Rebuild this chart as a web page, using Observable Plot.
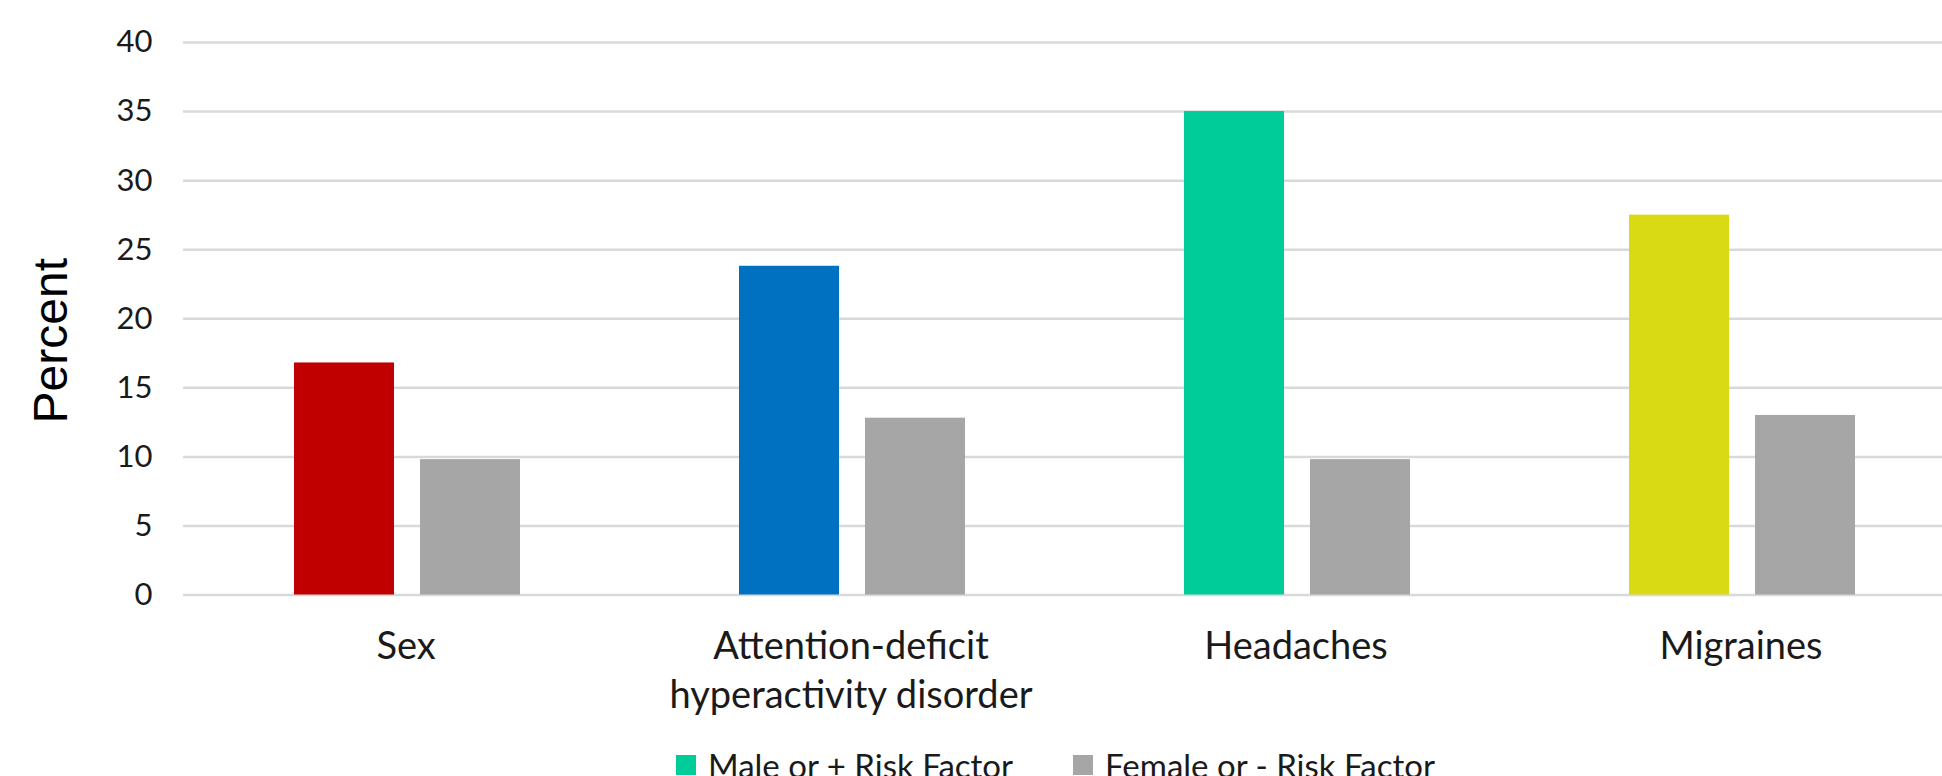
<!DOCTYPE html>
<html>
<head>
<meta charset="utf-8">
<script src="https://cdn.jsdelivr.net/npm/d3@7"></script>
<script src="https://cdn.jsdelivr.net/npm/@observablehq/plot@0.6"></script>
<style>
  html, body { margin: 0; padding: 0; background: #fff; overflow: hidden; width: 1942px; height: 776px; }
  #legend { display: flex; align-items: center; font-family: Lato, sans-serif; font-size: 33px; color: #1a1a1a; padding-left: 676px; padding-top: 25px; white-space: nowrap; }
  #legend .sw { display: inline-block; width: 20px; height: 20px; margin-right: 12px; }
  #legend .item { display: flex; align-items: center; margin-right: 60px; }
</style>
</head>
<body>
<div id="chart"></div>
<script>
const categories = ["Sex", "Attention-deficit hyperactivity disorder", "Headaches", "Migraines"];
const categoryLabels = ["Sex", "Attention-deficit\nhyperactivity disorder", "Headaches", "Migraines"];
const series = ["Male or + Risk Factor", "Female or - Risk Factor"];
const maleValues = [16.8, 23.8, 35.0, 27.5];
const femaleValues = [9.8, 12.8, 9.8, 13.0];
const yTicks = [0, 5, 10, 15, 20, 25, 30, 35, 40];

const malePalette = ["#C00000", "#0070C0", "#00CC99", "#D9D914"];
const femaleColor = "#A6A6A6";
const legendColors = ["#00CC99", "#A6A6A6"];

const data = categories.flatMap((c, i) => [
  {category: c, series: series[0], value: maleValues[i], idx: i},
  {category: c, series: series[1], value: femaleValues[i], idx: i}
]);

const W = 1942, H = 720, mTop = 42, mBottom = 125.5, mLeft = 182;

const chart = Plot.plot({
  width: W,
  height: H,
  marginTop: mTop,
  marginBottom: mBottom,
  marginLeft: mLeft,
  marginRight: 0,
  style: {fontFamily: "Lato, sans-serif", color: "#1a1a1a", background: "#fff"},
  fx: {domain: categories, range: [182, 1963], padding: 0, label: null},
  x: {domain: series, range: [266, 545.5], padding: 0.21, axis: null},
  y: {domain: [0, 40]},
  marks: [
    Plot.gridY(yTicks, {stroke: "#d9d9d9", strokeOpacity: 1, strokeWidth: 2.5}),
    Plot.axisY(yTicks, {tickSize: 0, tickPadding: 31, fontSize: 31, label: null, fill: "#1a1a1a"}),
    Plot.barY(data, {
      fx: "category",
      x: "series",
      y: "value",
      fill: d => d.series === series[0] ? malePalette[d.idx] : femaleColor
    }),
    Plot.axisFx({
      anchor: "bottom",
      tickSize: 0,
      tickPadding: 30,
      fontSize: 38,
      lineHeight: 1.27,
      label: null,
      fill: "#1a1a1a",
      tickFormat: c => categoryLabels[categories.indexOf(c)]
    }),
    Plot.text(["Percent"], {
      fx: () => categories[0],
      frameAnchor: "left",
      textAnchor: "middle",
      rotate: -90,
      dx: -132,
      dy: 22,
      fontSize: 48,
      fontFamily: "Liberation Sans, Arial, sans-serif",
      fill: "#000"
    })
  ]
});
document.getElementById("chart").appendChild(chart);

const legend = document.createElement("div");
legend.id = "legend";
series.forEach((s, i) => {
  const item = document.createElement("span");
  item.className = "item";
  const sw = document.createElement("span");
  sw.className = "sw";
  sw.style.background = legendColors[i];
  const t = document.createElement("span");
  t.textContent = s;
  item.appendChild(sw);
  item.appendChild(t);
  legend.appendChild(item);
});
document.body.appendChild(legend);
</script>
</body>
</html>
